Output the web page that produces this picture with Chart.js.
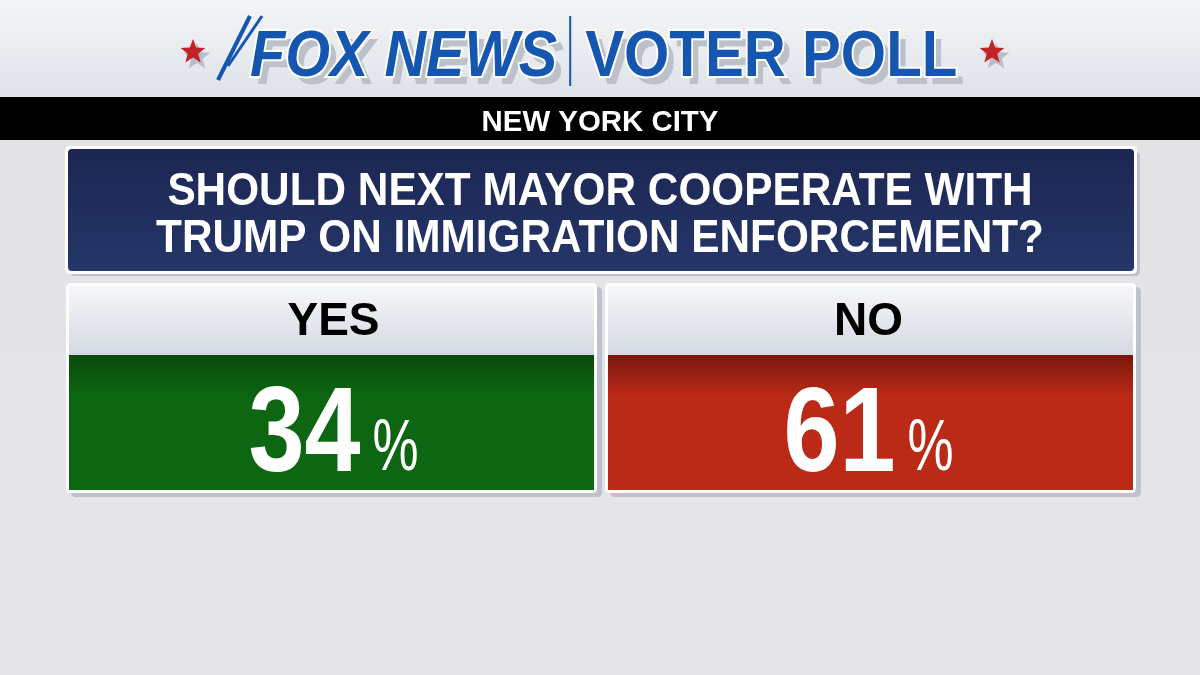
<!DOCTYPE html>
<html><head><meta charset="utf-8">
<script src="https://cdn.jsdelivr.net/npm/chart.js@4.4.1/dist/chart.umd.min.js"></script>
<style>html,body{margin:0;padding:0;background:#e4e4e7}#w{width:1200px;height:675px}</style>
</head><body><div id="w"><canvas id="c" width="1200" height="675"></canvas></div>
<script>
const categories = ["YES", "NO"];
const values = [34, 61];
const headerText = "FOX NEWS";
const pollText = "VOTER POLL";
const regionText = "NEW YORK CITY";
const questionLines = ["SHOULD NEXT MAYOR COOPERATE WITH", "TRUMP ON IMMIGRATION ENFORCEMENT?"];
const SANS = "'Liberation Sans','Roboto',sans-serif";

function rr(ctx,x,y,w,h,r){ctx.beginPath();ctx.moveTo(x+r,y);ctx.lineTo(x+w-r,y);ctx.quadraticCurveTo(x+w,y,x+w,y+r);ctx.lineTo(x+w,y+h-r);ctx.quadraticCurveTo(x+w,y+h,x+w-r,y+h);ctx.lineTo(x+r,y+h);ctx.quadraticCurveTo(x,y+h,x,y+h-r);ctx.lineTo(x,y+r);ctx.quadraticCurveTo(x,y,x+r,y);ctx.closePath();}
function star(ctx,cx,cy,R,r){ctx.beginPath();for(let i=0;i<10;i++){const a=-Math.PI/2+i*Math.PI/5;const rad=i%2?r:R;ctx.lineTo(cx+rad*Math.cos(a),cy+rad*Math.sin(a));}ctx.closePath();}
function ctext(ctx,t,x,y,font,sx,align,stroke){ctx.save();ctx.font=font;ctx.textAlign=align||'left';ctx.translate(x,y);ctx.scale(sx,1);if(stroke)ctx.strokeText(t,0,0);ctx.fillText(t,0,0);ctx.restore();}
function cw(ctx,t,font,sx){ctx.save();ctx.font=font;const w=ctx.measureText(t).width*sx;ctx.restore();return w;}

const deco = {
  id:'deco',
  beforeDraw(chart){
    const ctx=chart.ctx;
    ctx.save();
    let g=ctx.createLinearGradient(0,0,0,675);
    g.addColorStop(0,'#f4f5f7');g.addColorStop(0.14,'#dfe3e9');g.addColorStop(0.15,'#e3e3e6');g.addColorStop(1,'#e6e6e9');
    ctx.fillStyle=g;ctx.fillRect(0,0,1200,675);
    ctx.textBaseline='alphabetic';
    const f1="italic bold 64px "+SANS, f2="bold 64px "+SANS, s1=0.9, s2=0.91;
    const w1=cw(ctx,headerText,f1,s1);
    const x1=250, xb=x1+w1+12, x2=xb+16, by=76;
    ctx.fillStyle='#bcc0c8';
    ctext(ctx,headerText,x1+7,by+8,f1,s1);ctext(ctx,pollText,x2+7,by+8,f2,s2);
    ctx.fillStyle='#1556b0';ctx.strokeStyle='#ffffff';ctx.lineWidth=4;
    ctext(ctx,headerText,x1,by,f1,s1,'left',true);ctext(ctx,pollText,x2,by,f2,s2,'left',true);
    ctx.fillStyle='#1556b0';ctx.fillRect(xb,16,2,70);
    ctx.strokeStyle='#1556b0';ctx.lineWidth=4;ctx.beginPath();ctx.moveTo(218,80);ctx.lineTo(250,16);ctx.stroke();
    ctx.lineWidth=3;ctx.beginPath();ctx.moveTo(228,66);ctx.lineTo(262,16);ctx.stroke();
    [[193,52],[992,52]].forEach(p=>{ctx.fillStyle='#b9bdc5';star(ctx,p[0]+4,p[1]+5,14,6);ctx.fill();ctx.fillStyle='#c0242a';star(ctx,p[0],p[1],13,5.5);ctx.fill();});
    ctx.fillStyle='#000';ctx.fillRect(0,97,1200,43);
    ctx.fillStyle='#fff';ctext(ctx,regionText,600,131,"bold 30px "+SANS,0.98,'center');
    ctx.fillStyle='rgba(150,160,180,0.5)';rr(ctx,70,152,1070,124,5);ctx.fill();
    ctx.fillStyle='#ffffff';rr(ctx,65,146,1072,128,5);ctx.fill();
    g=ctx.createLinearGradient(0,150,0,270);g.addColorStop(0,'#1c2652');g.addColorStop(1,'#253669');
    ctx.fillStyle=g;rr(ctx,68,149,1066,122,4);ctx.fill();
    ctx.fillStyle='#fff';
    ctext(ctx,questionLines[0],600,205,"bold 46px "+SANS,0.92,'center');
    ctext(ctx,questionLines[1],600,252,"bold 46px "+SANS,0.92,'center');
    ctx.restore();
  },
  afterDatasetsDraw(chart){
    const ctx=chart.ctx, xs=chart.scales.x, a=chart.chartArea;
    const half=xs.width/categories.length/2;
    const fills=[['#0a4a0c','#0d6611'],['#7a160f','#bb2a17']];
    const vals=chart.data.datasets[0].data;
    ctx.save();
    categories.forEach((cat,i)=>{
      const cx=xs.getPixelForValue(i);
      const x=cx-half+(i===0?0:4), w=2*half-4;
      const top=a.top, hb=top+72, bot=a.bottom;
      ctx.fillStyle='rgba(150,160,180,0.5)';rr(ctx,x+5,top+4,w,bot-top,5);ctx.fill();
      ctx.fillStyle='#fff';rr(ctx,x,top,w,bot-top,5);ctx.fill();
      let g=ctx.createLinearGradient(0,top,0,hb);g.addColorStop(0,'#f7f8fa');g.addColorStop(1,'#d3d9e2');
      ctx.fillStyle=g;ctx.fillRect(x+3,top+3,w-6,hb-top-3);
      g=ctx.createLinearGradient(0,hb,0,bot);g.addColorStop(0,fills[i][0]);g.addColorStop(0.3,fills[i][1]);g.addColorStop(1,fills[i][1]);
      ctx.fillStyle=g;ctx.fillRect(x+3,hb,w-6,bot-hb-3);
      ctx.fillStyle='#000';ctext(ctx,cat,cx,top+52,"bold 46px "+SANS,1.0,'center');
      ctx.fillStyle='#fff';
      const num=String(vals[i]);
      const fn="bold 120px "+SANS, fp="72px "+SANS, sn=0.84, sp=0.72;
      const nw=cw(ctx,num,fn,sn), pw=cw(ctx,'%',fp,sp);
      const sx=cx-(nw+12+pw)/2;
      ctext(ctx,num,sx,bot-22,fn,sn);ctext(ctx,'%',sx+nw+12,bot-23,fp,sp);
    });
    ctx.restore();
  }
};

new Chart(document.getElementById('c'),{
  type:'bar',
  data:{labels:categories,datasets:[{data:values,backgroundColor:'rgba(0,0,0,0)',borderWidth:0}]},
  options:{responsive:false,animation:false,devicePixelRatio:1,
    layout:{padding:{left:66,right:64,top:283,bottom:182}},
    plugins:{legend:{display:false},tooltip:{enabled:false},title:{display:false}},
    scales:{x:{display:false,offset:true},y:{display:false,min:0,max:100}}},
  plugins:[deco]
});
</script></body></html>
